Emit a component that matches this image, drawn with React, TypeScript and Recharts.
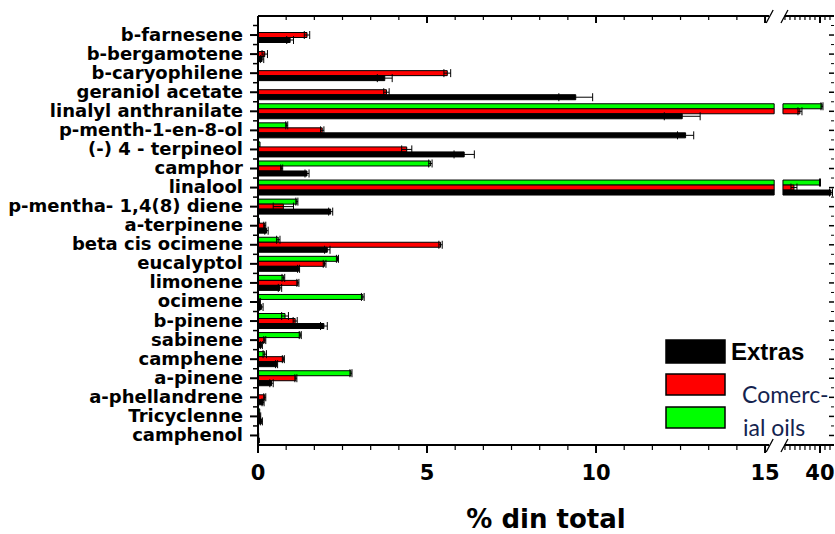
import { BarChart, Bar, XAxis, YAxis, ErrorBar, ReferenceArea, Legend } from 'recharts';

const CATEGORIES = [
  'b-farnesene',
  'b-bergamotene',
  'b-caryophilene',
  'geraniol acetate',
  'linalyl anthranilate',
  'p-menth-1-en-8-ol',
  '(-) 4 - terpineol',
  'camphor',
  'linalool',
  'p-mentha- 1,4(8) diene',
  'a-terpinene',
  'beta cis ocimene',
  'eucalyptol',
  'limonene',
  'ocimene',
  'b-pinene',
  'sabinene',
  'camphene',
  'a-pinene',
  'a-phellandrene',
  'Tricyclenne',
  'camphenol',
];

// % din total
const EXTRAS = [0.95, 0.12, 3.75, 9.4, 12.55, 12.65, 6.1, 1.45, 42.2, 2.15, 0.25, 2.05, 1.2, 0.65, 0.1, 1.95, 0.1, 0.55, 0.4, 0.15, 0.1, 0.04];
const EXTRAS_ERR = [0.1, 0.05, 0.22, 0.5, 0.53, 0.24, 0.3, 0.06, 0.3, 0.06, 0.05, 0.08, 0.03, 0.05, 0.05, 0.1, 0.03, 0.03, 0.05, 0.03, 0.03, 0];
const COMERCIAL_RED = [1.45, 0.2, 5.6, 3.8, 36, 1.9, 4.4, 0.7, 34.8, 0.75, 0.2, 5.4, 1.97, 1.18, 0.05, 1.1, 0.2, 0.75, 1.12, 0.2, 0.06, 0.02];
const COMERCIAL_RED_ERR = [0.08, 0.08, 0.1, 0.08, 0.4, 0.05, 0.15, 0.03, 0.6, 0.3, 0.03, 0.05, 0.04, 0.03, 0.02, 0.06, 0.03, 0.03, 0.03, 0.03, 0.02, 0];
const COMERCIAL_GREEN = [0, 0, 0, 0, 40.4, 0.85, 0.06, 5.1, 40, 1.15, 0.04, 0.6, 2.35, 0.75, 3.1, 0.8, 1.25, 0.2, 2.75, 0, 0.05, 0];
const COMERCIAL_GREEN_ERR = [0, 0, 0, 0, 0.2, 0.03, 0, 0.05, 0.1, 0.03, 0, 0.05, 0.03, 0.04, 0.04, 0.1, 0.03, 0.05, 0.03, 0, 0, 0];

const MAJOR_TICKS = [0, 5, 10, 15, 40];
const RIGHT_MINOR_TICKS = [33, 34, 35, 36, 37, 38, 39, 41, 42];

const BLACK = '#000000';
const RED = '#ff0000';
const GREEN = '#00ff00';
const FONT = "'DejaVu Sans', sans-serif";

// broken axis: 0..15.27 linear, then a gap, then 32.6.. compressed
const LEFT_END = 15.27;
const GAP_END = 15.53;
const RIGHT_START = 32.6;
const RIGHT_SCALE = 0.148;
const X_MAX = 17.04;

const WIDTH = 835;
const HEIGHT = 534;
const TOP_H = 16;
const BOTTOM_H = 89;
const PAD_TOP = 9.5;
const BAND = (HEIGHT - TOP_H - BOTTOM_H - PAD_TOP) / CATEGORIES.length;

function toDisplay(v: number) {
  return v <= LEFT_END ? v : GAP_END + (v - RIGHT_START) * RIGHT_SCALE;
}

const SERIES = [
  { key: 'green', values: COMERCIAL_GREEN, errors: COMERCIAL_GREEN_ERR, color: GREEN },
  { key: 'red', values: COMERCIAL_RED, errors: COMERCIAL_RED_ERR, color: RED },
  { key: 'black', values: EXTRAS, errors: EXTRAS_ERR, color: BLACK },
];

const rows = CATEGORIES.map((name, i) => {
  const row: Record<string, any> = { name };
  SERIES.forEach((s) => {
    const d = toDisplay(s.values[i]);
    const broken = d > LEFT_END;
    row[s.key + 'Left'] = Math.min(d, LEFT_END);
    row[s.key + 'Gap'] = broken ? GAP_END - LEFT_END : 0;
    row[s.key + 'Right'] = broken ? d - GAP_END : 0;
    row[s.key + 'ErrLeft'] = broken ? 0 : s.errors[i];
    row[s.key + 'ErrRight'] = broken ? s.errors[i] * RIGHT_SCALE : 0;
  });
  return row;
});

const leftMinor: number[] = [];
for (let k = 1; k < 18; k++) leftMinor.push((k * 5) / 6);

const AXIS_TICKS = [
  ...MAJOR_TICKS.map((v) => ({ d: toDisplay(v), label: String(v), major: true })),
  ...leftMinor.filter((v) => v % 5 > 0.01 && v % 5 < 4.99).map((v) => ({ d: v, label: '', major: false })),
  ...RIGHT_MINOR_TICKS.map((v) => ({ d: toDisplay(v), label: '', major: false })),
].sort((a, b) => a.d - b.d);

function findTick(value: number) {
  return AXIS_TICKS.find((t) => Math.abs(t.d - value) < 1e-6);
}

function BottomTick(props: any) {
  const { x, y, payload } = props;
  const t = findTick(payload.value);
  if (!t) return null;
  return (
    <g>
      <line x1={x} x2={x} y1={y} y2={y + (t.major ? 8 : 5)} stroke={BLACK} strokeWidth={t.major ? 2 : 1.2} />
      {t.label && (
        <text x={x} y={y + 35} textAnchor="middle" fontFamily={FONT} fontWeight={700} fontSize={21} fill={BLACK}>
          {t.label}
        </text>
      )}
    </g>
  );
}

function TopTick(props: any) {
  const { x, y, payload } = props;
  const t = findTick(payload.value);
  if (!t) return null;
  return <line x1={x} x2={x} y1={y} y2={y + (t.major ? 7 : 4)} stroke={BLACK} strokeWidth={t.major ? 2 : 1.2} />;
}

function LeftTick(props: any) {
  const { x, y, payload } = props;
  return (
    <g>
      <line x1={x - 8} x2={x} y1={y} y2={y} stroke={BLACK} strokeWidth={2} />
      <line x1={x - 5} x2={x} y1={y - BAND / 2} y2={y - BAND / 2} stroke={BLACK} strokeWidth={1.5} />
      <text x={x - 15} y={y + 5.5} textAnchor="end" fontFamily={FONT} fontWeight={700} fontSize={18} fill={BLACK}>
        {payload.value}
      </text>
    </g>
  );
}

function RightTick(props: any) {
  const { x, y } = props;
  return (
    <g>
      <line x1={x - 5} x2={x} y1={y} y2={y} stroke={BLACK} strokeWidth={1.5} />
      <line x1={x - 3} x2={x} y1={y - BAND / 2} y2={y - BAND / 2} stroke={BLACK} strokeWidth={1} />
    </g>
  );
}

// top and bottom axis lines of one segment of the broken axis
function AxisSegment(props: any) {
  const { x, y, width, height } = props;
  const top = y - PAD_TOP;
  const bottom = y + height;
  return (
    <g>
      <line x1={x} x2={x + width} y1={top} y2={top} stroke={BLACK} strokeWidth={2} />
      <line x1={x} x2={x + width} y1={bottom} y2={bottom} stroke={BLACK} strokeWidth={2} />
    </g>
  );
}

function BreakMarks(props: any) {
  const { x, y, width, height } = props;
  const ys = [y - PAD_TOP, y + height];
  return (
    <g stroke={BLACK} strokeWidth={1.3}>
      {ys.map((yy) => (
        <g key={yy}>
          <line x1={x - 8} y1={yy + 7} x2={x - 1} y2={yy - 6} />
          <line x1={x + width - 2} y1={yy + 7} x2={x + width + 5} y2={yy - 6} />
        </g>
      ))}
    </g>
  );
}

function LegendContent() {
  return (
    <svg width={168} height={106} style={{ display: 'block', overflow: 'visible' }}>
      <rect x={1} y={2} width={59} height={23} fill={BLACK} stroke={BLACK} strokeWidth={1.5} />
      <rect x={1} y={36} width={59} height={21} fill={RED} stroke={BLACK} strokeWidth={1.5} />
      <rect x={1} y={69} width={59} height={21} fill={GREEN} stroke={BLACK} strokeWidth={1.5} />
      <text x={66} y={22} fontFamily="'Liberation Sans', Arial, sans-serif" fontWeight={700} fontSize={24} fill={BLACK}>
        Extras
      </text>
      <text x={77} y={65} fontFamily="Lato, sans-serif" fontSize={23} fill="#14234f">
        Comerc-
      </text>
      <text x={78} y={98} fontFamily="Lato, sans-serif" fontSize={23} fill="#14234f">
        ial oils
      </text>
    </svg>
  );
}

export default function App() {
  const ticks = AXIS_TICKS.map((t) => t.d);
  return (
    <div style={{ position: 'absolute', left: 0, top: 0, width: WIDTH, height: HEIGHT, background: '#fff' }}>
      <BarChart
        width={WIDTH}
        height={HEIGHT}
        data={rows}
        layout="vertical"
        margin={{ top: 0, right: 0, bottom: 0, left: 0 }}
        barSize={5}
        barGap={0}
      >
        <XAxis
          type="number"
          domain={[0, X_MAX]}
          allowDataOverflow
          ticks={ticks}
          interval={0}
          tick={<BottomTick />}
          tickLine={false}
          axisLine={false}
          tickSize={0}
          tickMargin={0}
          height={BOTTOM_H}
          label={{
            value: '% din total',
            position: 'insideBottom',
            offset: 6,
            fill: BLACK,
            fontSize: 26,
            fontWeight: 700,
            fontFamily: FONT,
          }}
        />
        <XAxis
          xAxisId="top"
          orientation="top"
          type="number"
          domain={[0, X_MAX]}
          allowDataOverflow
          ticks={ticks}
          interval={0}
          tick={<TopTick />}
          tickLine={false}
          axisLine={false}
          tickSize={0}
          tickMargin={0}
          height={TOP_H}
        />
        <YAxis
          type="category"
          dataKey="name"
          width={258}
          padding={{ top: PAD_TOP, bottom: 0 }}
          interval={0}
          tick={<LeftTick />}
          tickLine={false}
          tickSize={0}
          tickMargin={0}
          axisLine={{ stroke: BLACK, strokeWidth: 2 }}
        />
        <YAxis
          yAxisId="right"
          orientation="right"
          type="category"
          dataKey="name"
          width={1}
          padding={{ top: PAD_TOP, bottom: 0 }}
          interval={0}
          tick={<RightTick />}
          tickLine={false}
          tickSize={0}
          tickMargin={0}
          axisLine={false}
          stroke="none"
        />
        {SERIES.map((s) => [
          <Bar
            key={s.key + 'Left'}
            dataKey={s.key + 'Left'}
            stackId={s.key}
            fill={s.color}
            stroke={BLACK}
            strokeWidth={1}
            isAnimationActive={false}
          >
            <ErrorBar dataKey={s.key + 'ErrLeft'} direction="x" width={4} stroke={BLACK} strokeWidth={1} />
          </Bar>,
          <Bar
            key={s.key + 'Gap'}
            dataKey={s.key + 'Gap'}
            stackId={s.key}
            fill="none"
            stroke="none"
            isAnimationActive={false}
          />,
          <Bar
            key={s.key + 'Right'}
            dataKey={s.key + 'Right'}
            stackId={s.key}
            fill={s.color}
            stroke={BLACK}
            strokeWidth={1}
            isAnimationActive={false}
          >
            <ErrorBar dataKey={s.key + 'ErrRight'} direction="x" width={4} stroke={BLACK} strokeWidth={1} />
          </Bar>,
        ])}
        <ReferenceArea x1={0} x2={15.12} ifOverflow="visible" shape={<AxisSegment />} />
        <ReferenceArea x1={GAP_END + 0.05} x2={X_MAX} ifOverflow="visible" shape={<AxisSegment />} />
        <ReferenceArea x1={LEFT_END} x2={GAP_END} ifOverflow="visible" shape={<BreakMarks />} />
        <Legend
          layout="vertical"
          align="center"
          verticalAlign="middle"
          content={<LegendContent />}
          wrapperStyle={{ position: 'absolute', left: 665, top: 338, width: 168, height: 106 }}
        />
      </BarChart>
    </div>
  );
}
